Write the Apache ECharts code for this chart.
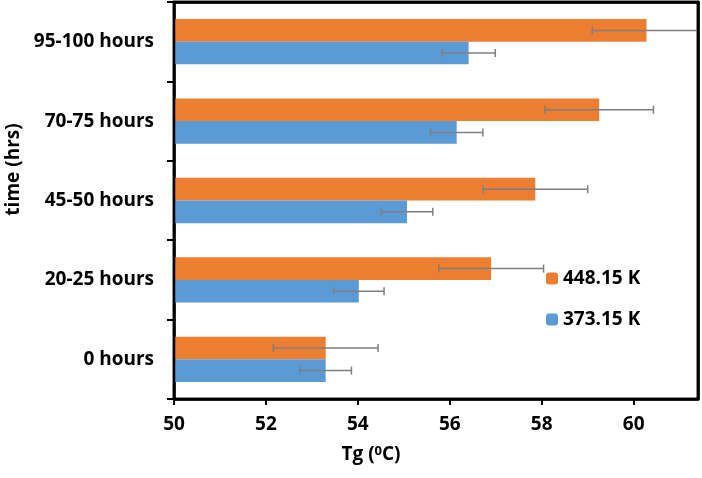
<!DOCTYPE html>
<html>
<head>
<meta charset="utf-8">
<script src="https://cdn.jsdelivr.net/npm/echarts@6/dist/echarts.min.js"></script>
<style>html,body{margin:0;padding:0;background:#fff;}#chart{width:702px;height:478px;}</style>
</head>
<body>
<div id="chart"></div>
<script>
const categories = ['0 hours', '20-25 hours', '45-50 hours', '70-75 hours', '95-100 hours'];
const seriesNames = ['448.15 K', '373.15 K'];
const values448 = [53.3, 56.9, 57.86, 59.25, 60.28];
const err448 = [1.14, 1.14, 1.14, 1.18, 1.18];
const values373 = [53.3, 54.02, 55.07, 56.15, 56.41];
const err373 = [0.56, 0.55, 0.56, 0.57, 0.58];
const xTicks = [50, 52, 54, 56, 58, 60];

const FONT = 'Open Sans';
const FS = 19;
const chart = echarts.init(document.getElementById('chart'));

function errData(vals, errs) {
  return vals.map((v, i) => [v - errs[i], v + errs[i], i]);
}
function errRender(sign) {
  return function (params, api) {
    const cs = params.coordSys;
    const c = api.value(2);
    const band = api.size([0, 1])[1];
    const barW = band * (1 - 0.43) / 2;
    const dy = sign * barW / 2;
    const p1 = api.coord([api.value(0), c]);
    const p2 = api.coord([api.value(1), c]);
    const xMax = cs.x + cs.width;
    const y = p1[1] + dy;
    const x1 = Math.max(p1[0], cs.x);
    const x2 = Math.min(p2[0], xMax);
    const st = { stroke: '#7f7f7f', lineWidth: 1.5 };
    const ch = [{ type: 'line', shape: { x1: x1, y1: y, x2: x2, y2: y }, style: st }];
    if (p1[0] >= cs.x) ch.push({ type: 'line', shape: { x1: p1[0], y1: y - 4, x2: p1[0], y2: y + 4 }, style: st });
    if (p2[0] <= xMax) ch.push({ type: 'line', shape: { x1: p2[0], y1: y - 4, x2: p2[0], y2: y + 4 }, style: st });
    return { type: 'group', children: ch };
  };
}

const GRID_TOP = 2, GRID_BOTTOM = 79;
const frameLine = { show: true, onZero: false, lineStyle: { color: '#000', width: 2.5 } };

const option = {
  animation: false,
  textStyle: { fontFamily: FONT },
  grid: { left: 174, right: 4, top: GRID_TOP, bottom: GRID_BOTTOM, show: true, borderColor: '#000', borderWidth: 2.5, containLabel: false, outerBoundsMode: 'none' },
  legend: {
    data: seriesNames,
    orient: 'vertical',
    left: 541, top: 264,
    itemWidth: 12, itemHeight: 12, itemGap: 22,
    textStyle: { fontFamily: FONT, fontWeight: 'bold', fontSize: FS, color: '#000' }
  },
  xAxis: [{
    type: 'value', min: 50, max: 61.4, interval: 2,
    name: '{a|Tg (}{s|0}{a|C)}',
    nameLocation: 'middle', nameGap: 46,
    nameTextStyle: {
      padding: [0, 130, 0, 0],
      rich: {
        a: { fontFamily: FONT, fontWeight: 'bold', fontSize: FS, color: '#000' },
        s: { fontFamily: FONT, fontWeight: 'bold', fontSize: 13, color: '#000', verticalAlign: 'top', padding: [0, 0, 6, 0] }
      }
    },
    splitLine: { show: false },
    axisLine: frameLine,
    axisTick: { show: true, length: 6, lineStyle: { color: '#000', width: 2 }, customValues: xTicks },
    axisLabel: { customValues: xTicks, margin: 16, fontFamily: FONT, fontWeight: 'bold', fontSize: FS, color: '#000' }
  }, {
    type: 'value', position: 'top', min: 50, max: 61.4,
    axisLine: frameLine, axisTick: { show: false }, axisLabel: { show: false }, splitLine: { show: false }
  }],
  yAxis: [{
    type: 'category', data: categories,
    name: 'time (hrs)', nameLocation: 'middle', nameGap: 150,
    nameTextStyle: { fontFamily: FONT, fontWeight: 'bold', fontSize: FS, color: '#000', padding: [0, 0, 0, 62] },
    axisLine: frameLine,
    axisTick: { show: true, length: 7, lineStyle: { color: '#000', width: 2 } },
    axisLabel: { margin: 20, fontFamily: FONT, fontWeight: 'bold', fontSize: FS, color: '#000' }
  }, {
    type: 'category', position: 'right', data: categories,
    axisLine: frameLine, axisTick: { show: false }, axisLabel: { show: false }, splitLine: { show: false }
  }],
  series: [
    { name: seriesNames[0], type: 'bar', data: values448, itemStyle: { color: '#ED7D31' }, barGap: '0%', barCategoryGap: '43%' },
    { name: seriesNames[1], type: 'bar', data: values373, itemStyle: { color: '#5B9BD5' }, barGap: '0%', barCategoryGap: '43%' },
    { type: 'custom', renderItem: errRender(-1), data: errData(values448, err448), encode: { x: [0, 1], y: 2 }, z: 5 },
    { type: 'custom', renderItem: errRender(1), data: errData(values373, err373), encode: { x: [0, 1], y: 2 }, z: 5 }
  ]
};
chart.setOption(option);

// plot-area frame, derived from the axis' own pixel mapping
(function () {
  const xEnd = chart.convertToPixel({ xAxisIndex: 0 }, 61.4);
  const xStart = chart.convertToPixel({ xAxisIndex: 0 }, 50);
  const yTop = GRID_TOP;
  const yBottom = chart.getHeight() - GRID_BOTTOM;
  chart.setOption({
    graphic: [{
      type: 'polyline', z: 100, silent: true,
      shape: { points: [[xStart, yBottom], [xStart, yTop], [xEnd, yTop], [xEnd, yBottom], [xStart, yBottom]] },
      style: { stroke: '#000', lineWidth: 2.5, fill: null }
    }]
  });
})();
</script>
</body>
</html>
